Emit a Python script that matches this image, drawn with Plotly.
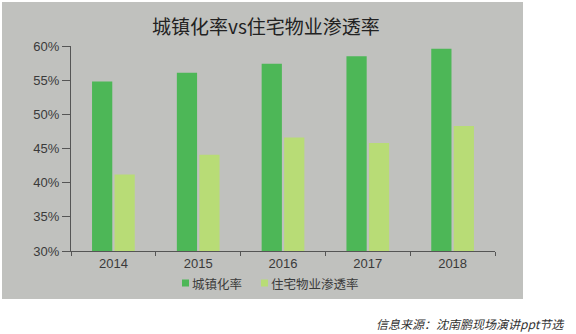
import plotly.graph_objects as go

years = ["2014", "2015", "2016", "2017", "2018"]
urbanization = [54.8, 56.1, 57.4, 58.5, 59.6]
penetration = [41.2, 44.1, 46.6, 45.8, 48.3]
y_ticks = [30, 35, 40, 45, 50, 55, 60]
y_tick_labels = [f"{v}%" for v in y_ticks]

title_text = "城镇化率vs住宅物业渗透率"
series_names = ["城镇化率", "住宅物业渗透率"]
source_text = "信息来源：沈南鹏现场演讲ppt节选"

GREEN = "#4db757"
LIGHT = "#b8dc76"
PANEL = "#c0c1be"
TEXT = "#3a3a3a"
FONT = "Liberation Sans, Noto Sans CJK SC, sans-serif"
CJK = "Noto Sans CJK SC, sans-serif"

W, H = 576, 334
L, R, T, B = 71, 81, 46, 83
pw, ph = W - L - R, H - T - B


def px_x(x):
    return (x - L) / pw


def px_y(y):
    return (H - B - y) / ph


fig = go.Figure()
fig.add_trace(go.Bar(x=years, y=urbanization, name=series_names[0],
                     marker=dict(color=GREEN, line=dict(width=0))))
fig.add_trace(go.Bar(x=years, y=penetration, name=series_names[1],
                     marker=dict(color=LIGHT, line=dict(width=0))))

# Compact legend: small colour squares followed closely by the series names
legend_y = 283
legend_items = [(182, series_names[0], GREEN), (261, series_names[1], LIGHT)]
shapes = [dict(type="rect", xref="paper", yref="paper",
               x0=px_x(2), x1=px_x(523), y0=px_y(299), y1=px_y(2),
               fillcolor=PANEL, line=dict(width=0), layer="below")]
annotations = [
    dict(text=title_text, xref="paper", yref="paper",
         x=px_x(266), y=px_y(26), xanchor="center", yanchor="middle",
         showarrow=False, font=dict(family=CJK, size=19, color="#222222")),
    dict(text=f"<i>{source_text}</i>", xref="paper", yref="paper",
         x=px_x(567), y=px_y(323), xanchor="right", yanchor="middle",
         showarrow=False, font=dict(family=CJK, size=12, color="#333333")),
]
for x0, name, color in legend_items:
    shapes.append(dict(type="rect", xref="paper", yref="paper",
                       x0=px_x(x0), x1=px_x(x0 + 7),
                       y0=px_y(legend_y + 3.5), y1=px_y(legend_y - 3.5),
                       fillcolor=color, line=dict(width=0)))
    annotations.append(dict(text=name, xref="paper", yref="paper",
                            x=px_x(x0 + 8), y=px_y(legend_y),
                            xanchor="left", yanchor="middle", showarrow=False,
                            font=dict(family=CJK, size=12.5, color=TEXT)))

fig.update_layout(
    width=W, height=H,
    margin=dict(l=L, r=R, t=T, b=B, pad=0),
    paper_bgcolor="white",
    plot_bgcolor=PANEL,
    barmode="group",
    bargap=0.47,
    bargroupgap=0.1,
    font=dict(family=FONT, size=13, color=TEXT),
    showlegend=False,
    xaxis=dict(type="category", showgrid=False, showline=True,
               linecolor="#555555", linewidth=1,
               ticks="outside", tickson="boundaries", ticklen=4,
               tickcolor="#555555", tickfont=dict(size=13, color=TEXT),
               fixedrange=True),
    yaxis=dict(range=[30, 60], tickvals=y_ticks, ticktext=y_tick_labels,
               showgrid=False, zeroline=False, showline=True,
               linecolor="#555555", linewidth=1,
               ticks="outside", ticklen=8, tickcolor="#555555",
               tickfont=dict(size=13, color=TEXT), fixedrange=True),
    shapes=shapes,
    annotations=annotations,
)

fig.write_html("out.html")
